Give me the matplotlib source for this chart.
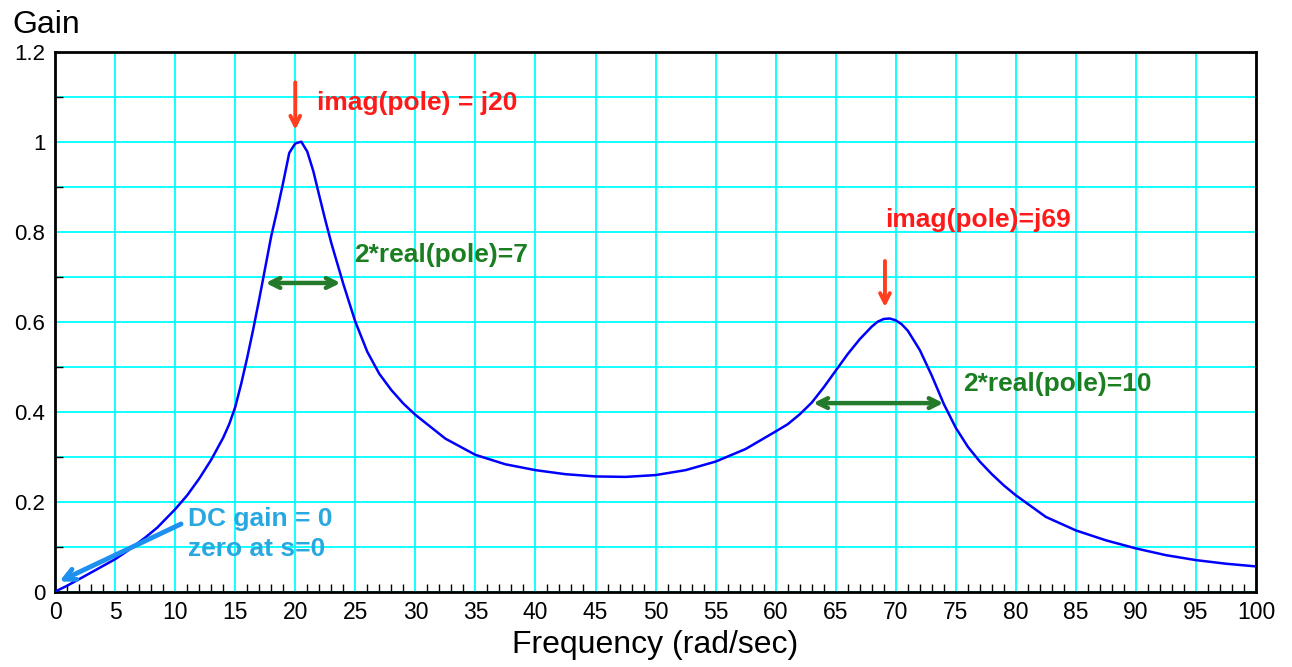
import numpy as np
import matplotlib.pyplot as plt
from matplotlib.ticker import MultipleLocator

# gain curve
freq = [0, 1, 2.5, 5, 6, 7.5, 8.5, 10, 11, 12, 13, 14, 14.5, 15, 15.5, 16, 16.5, 17,
        18, 18.5, 19, 19.5, 20, 20.5, 21, 21.5, 22, 22.5, 23, 24, 25, 26, 27, 28, 29,
        30, 32.5, 35, 37.5, 40, 42.5, 45, 47.5, 50, 52.5, 55, 57.5, 60, 61, 62, 63,
        64, 65, 66, 67, 68, 68.5, 69, 69.5, 70, 70.5, 71, 72, 73, 74, 75, 76, 77, 78,
        79, 80, 82.5, 85, 87.5, 90, 92.5, 95, 97.5, 100]
gain = [0, 0.013, 0.035, 0.072, 0.09, 0.12, 0.142, 0.183, 0.214, 0.251, 0.293, 0.342,
        0.372, 0.41, 0.462, 0.52, 0.583, 0.65, 0.79, 0.848, 0.91, 0.975, 0.996, 1.0,
        0.978, 0.935, 0.88, 0.826, 0.775, 0.684, 0.6, 0.533, 0.484, 0.448, 0.418,
        0.393, 0.34, 0.304, 0.283, 0.27, 0.261, 0.256, 0.255, 0.259, 0.27, 0.289,
        0.317, 0.356, 0.372, 0.394, 0.42, 0.454, 0.491, 0.528, 0.561, 0.589, 0.6,
        0.606, 0.607, 0.603, 0.594, 0.58, 0.537, 0.48, 0.417, 0.364, 0.322, 0.289,
        0.261, 0.236, 0.214, 0.166, 0.136, 0.114, 0.096, 0.081, 0.07, 0.062, 0.056]

# annotation anchors
pole1_imag = 20
pole1_span = (17.3, 24.0)
pole2_imag = 69.1
pole2_span = (62.9, 74.2)

plt.rcParams['font.family'] = ['Liberation Sans', 'DejaVu Sans']

fig = plt.figure(figsize=(12.92, 6.67), dpi=100)
ax = fig.add_axes([0.0426, 0.113, 0.9296, 0.8095])

ax.plot(freq, gain, color='#0000ff', lw=1.8, zorder=3)

ax.set_xlim(0, 100)
ax.set_ylim(0, 1.2)
ax.xaxis.set_major_locator(MultipleLocator(5))
ax.xaxis.set_minor_locator(MultipleLocator(1))
ax.yaxis.set_minor_locator(MultipleLocator(0.1))
ax.set_yticks([0, 0.2, 0.4, 0.6, 0.8, 1, 1.2])
ax.set_yticklabels(['0', '0.2', '0.4', '0.6', '0.8', '1', '1.2'])

ax.grid(True, which='major', axis='x', color='#00ffff', lw=1.3)
ax.grid(True, which='both', axis='y', color='#00ffff', lw=1.3)
ax.set_axisbelow(True)

ax.tick_params(which='major', direction='in', length=0, pad=7)
ax.tick_params(axis='x', which='major', labelsize=16.5)
ax.tick_params(axis='y', which='major', labelsize=16)
ax.tick_params(which='minor', direction='in', length=6, width=1, color='black')
for s in ax.spines.values():
    s.set_linewidth(2)

ax.set_xlabel('Frequency (rad/sec)', fontsize=23, labelpad=4)
fig.text(12 / 1292, 1 - 33 / 667, 'Gain', fontsize=23, va='baseline')

red_arrow = dict(arrowstyle='->,head_length=0.7,head_width=0.35', color='#ff3d1f', lw=2.8)
green_arrow = dict(arrowstyle='<->,head_length=0.7,head_width=0.35', color='#237a2a', lw=3.2)

ax.annotate('', xy=(pole1_imag, 1.02), xytext=(pole1_imag, 1.138), arrowprops=red_arrow)
ax.annotate('', xy=(pole2_imag, 0.626), xytext=(pole2_imag, 0.741), arrowprops=red_arrow)
ax.annotate('', xy=(pole1_span[0], 0.686), xytext=(pole1_span[1], 0.686), arrowprops=green_arrow)
ax.annotate('', xy=(pole2_span[0], 0.419), xytext=(pole2_span[1], 0.419), arrowprops=green_arrow)
ax.annotate('', xy=(0.15, 0.02), xytext=(10.7, 0.153),
            arrowprops=dict(arrowstyle='->,head_length=0.8,head_width=0.4', color='#1e90f0', lw=3.5))

ax.text(21.8, 1.085, 'imag(pole) = j20', color='#ff1a1a', fontsize=19, fontweight='bold', va='center')
ax.text(69.1, 0.825, 'imag(pole)=j69', color='#ff1a1a', fontsize=19, fontweight='bold', va='center')
ax.text(24.9, 0.748, '2*real(pole)=7', color='#1b7f22', fontsize=19, fontweight='bold', va='center')
ax.text(75.6, 0.461, '2*real(pole)=10', color='#1b7f22', fontsize=19, fontweight='bold', va='center')
ax.text(11.1, 0.128, 'DC gain = 0\nzero at s=0', color='#29a8e0', fontsize=19, fontweight='bold',
        va='center', linespacing=1.3)

fig.savefig('out.png', dpi=100)
